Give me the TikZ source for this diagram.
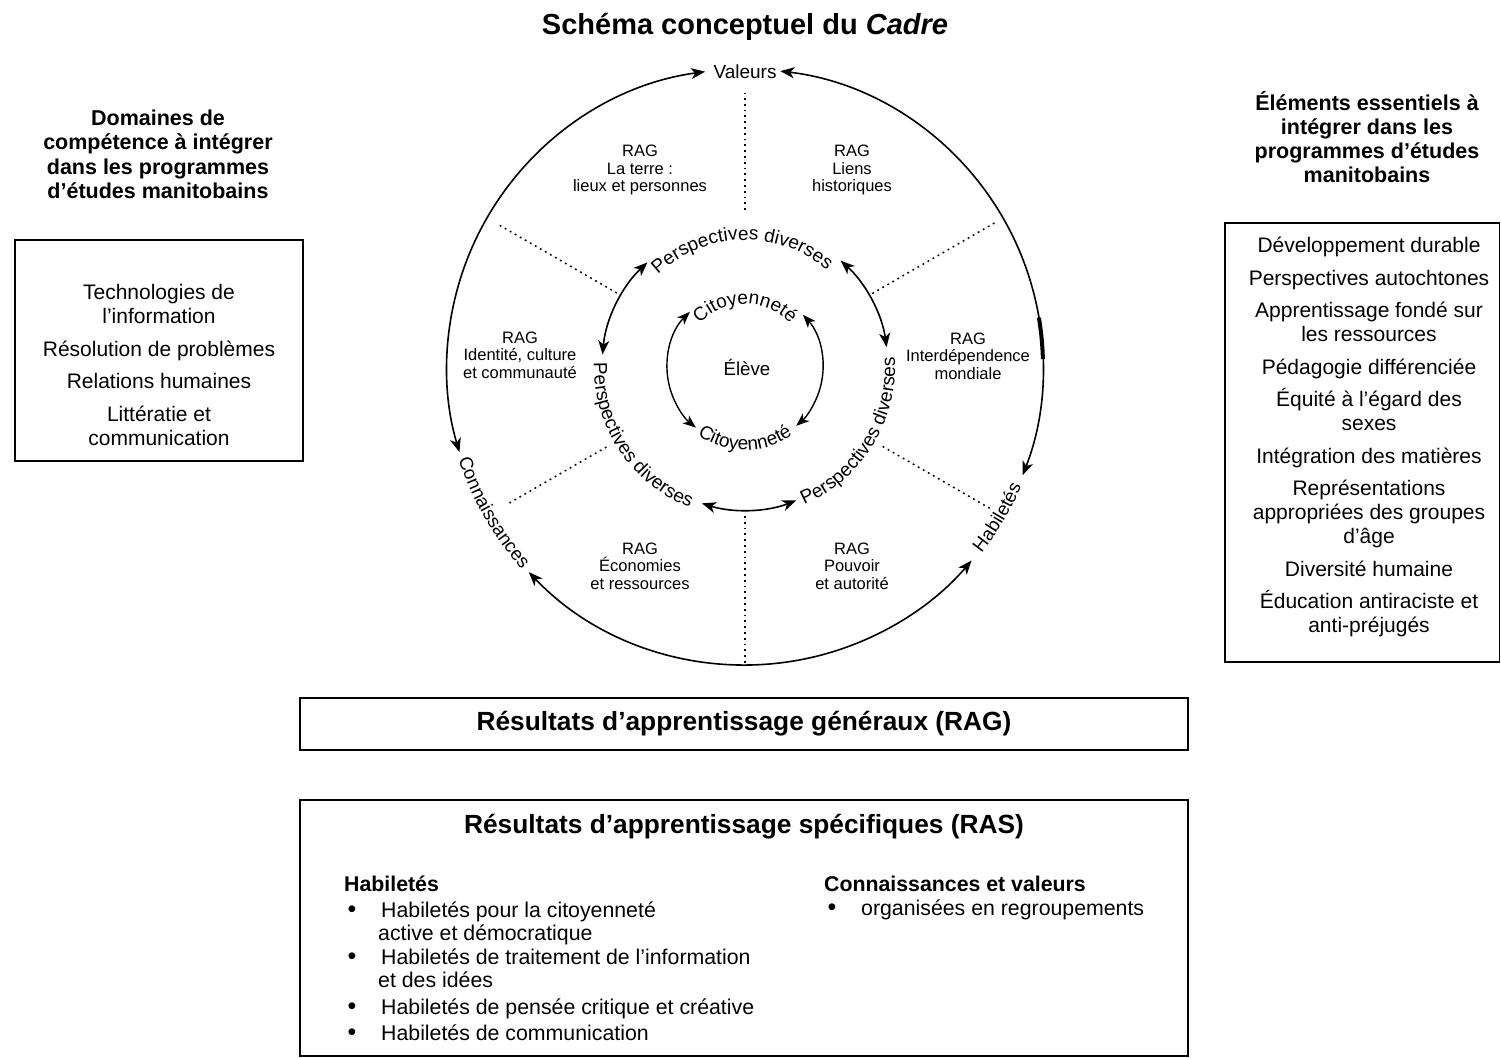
\documentclass[tikz,border=0pt]{standalone}
\usepackage{fontspec}
\setmainfont{Liberation Sans}
\usetikzlibrary{arrows.meta,decorations.text}
\newcommand\dgPers{\fontsize{19}{20}\selectfont}
\newcommand\dgCit{\fontsize{19}{20}\selectfont}
\newcommand\dgOuter{\fontsize{18.7}{20}\selectfont}
\begin{document}
\begin{tikzpicture}[x=1pt,y=1pt,
  boxnode/.style={draw,line width=1.3pt,inner sep=0pt},
  bigtip/.style={line width=1.6pt,{Stealth[length=14pt,width=11pt,inset=4pt]}-{Stealth[length=14pt,width=11pt,inset=4pt]}},
  smalltip/.style={line width=1.4pt,{Stealth[length=13pt,width=10pt,inset=3.5pt]}-{Stealth[length=13pt,width=10pt,inset=3.5pt]}},
  sepline/.style={line width=1.5pt,dash pattern=on 1.8pt off 4pt},
  raglabel/.style={align=center,font=\fontsize{16.5}{17.5}\selectfont,inner sep=0pt},
  header/.style={align=center,font=\bfseries\fontsize{21.5}{24.5}\selectfont,inner sep=0pt},
  bodytext/.style={align=center,font=\fontsize{21}{24.5}\selectfont,inner sep=0pt},
  bigtitle/.style={font=\bfseries\fontsize{26.3}{30}\selectfont,inner sep=0pt},
  listtext/.style={anchor=base west,font=\fontsize{21.3}{24}\selectfont,inner sep=0pt},
  listhead/.style={anchor=west,font=\bfseries\fontsize{21.3}{24}\selectfont,inner sep=0pt},
  bulletnode/.style={anchor=base,font=\fontsize{25}{26}\selectfont,inner sep=0pt},
  ringtext/.style={decorate,decoration={text along path,text align=center,text={#1}}}
]
\useasboundingbox (0,0) rectangle (1501,1057);

% Title
\node[font=\bfseries\fontsize{29}{32}\selectfont,inner sep=0pt] (title) at (745,1030) {Schéma conceptuel du \textit{Cadre}};

% Left column
\node[header] (lhead) at (158,902.5) {Domaines de\\compétence à intégrer\\dans les programmes\\d’études manitobains};
\node[boxnode,minimum width=288pt,minimum height=221pt] (lbox) at (159,706.5) {};
\node[bodytext] (ltext) at (159,692) {Technologies de\\l’information\\[8pt]Résolution de problèmes\\[8pt]Relations humaines\\[8pt]Littératie et\\communication};

% Right column
\node[header,font=\bfseries\fontsize{21.5}{24}\selectfont] (rhead) at (1367,920) {Éléments essentiels à\\intégrer dans les\\programmes d’études\\manitobains};
\node[boxnode,minimum width=274.3pt,minimum height=439pt] (rbox) at (1362.15,614.5) {};
\node[bodytext,font=\fontsize{21}{24}\selectfont] (rtext) at (1369,620) {Développement durable\\[8.5pt]Perspectives autochtones\\[8.5pt]Apprentissage fondé sur\\les ressources\\[8.5pt]Pédagogie différenciée\\[8.5pt]Équité à l’égard des\\sexes\\[8.5pt]Intégration des matières\\[8.5pt]Représentations\\appropriées des groupes\\d’âge\\[8.5pt]Diversité humaine\\[8.5pt]Éducation antiraciste et\\anti-préjugés};

% Circle diagram
\coordinate (C) at (745,690);

% outer ring
\draw[bigtip] ([shift={(97.7:298)}]C) arc[start angle=97.7,end angle=196.6,radius=298];
\draw[bigtip] ([shift={(83.2:298)}]C) arc[start angle=83.2,end angle=-21.3,radius=298];
\draw[bigtip] ([shift={(223.5:298)}]C) arc[start angle=223.5,end angle=319.5,radius=298];
\draw[line width=4pt] ([shift={(1.5:298)}]C) arc[start angle=1.5,end angle=9.5,radius=298];
\node[font=\fontsize{19}{20}\selectfont,inner sep=0pt] (val) at (745,985) {Valeurs};
\path[ringtext={|\dgOuter|Connaissances}] ([shift={(190:301)}]C) arc[start angle=190,end angle=230,radius=301];
\path[ringtext={|\dgOuter|Habiletés}] ([shift={(-45:301)}]C) arc[start angle=-45,end angle=-16.5,radius=301];

% separators
\draw[sepline] ([shift={(90:157)}]C) -- ([shift={(90:274)}]C);
\draw[sepline] ([shift={(150:148)}]C) -- ([shift={(150:286)}]C);
\draw[sepline] ([shift={(30:147)}]C) -- ([shift={(30:290)}]C);
\draw[sepline] ([shift={(210:160)}]C) -- ([shift={(210:274)}]C);
\draw[sepline] ([shift={(330:159)}]C) -- ([shift={(330:283)}]C);
\draw[sepline] ([shift={(270:149)}]C) -- ([shift={(270:296)}]C);

% RAG labels
\node[raglabel] (rag1) at (640,887) {RAG\\La terre :\\lieux et personnes};
\node[raglabel] (rag2) at (852,887) {RAG\\Liens\\historiques};
\node[raglabel] (rag3) at (520,702) {RAG\\Identité, culture\\et communauté};
\node[raglabel] (rag4) at (968,701) {RAG\\Interdépendence\\mondiale};
\node[raglabel] (rag5) at (640,491) {RAG\\Économies\\et ressources};
\node[raglabel] (rag6) at (852,491) {RAG\\Pouvoir\\et autorité};

% middle ring
\draw[bigtip] ([shift={(133:143)}]C) arc[start angle=133,end angle=175,radius=143];
\draw[bigtip] ([shift={(48:143)}]C) arc[start angle=48,end angle=8,radius=143];
\draw[bigtip] ([shift={(252.5:143)}]C) arc[start angle=252.5,end angle=291,radius=143];
\path[ringtext={|\dgPers|Perspectives diverses}] ([shift={(160:127)}]C) arc[start angle=160,end angle=23,radius=127];
\path[ringtext={|\dgPers|Perspectives diverses}] ([shift={(163:151)}]C) arc[start angle=163,end angle=264,radius=151];
\path[ringtext={|\dgPers|Perspectives diverses}] ([shift={(278:150)}]C) arc[start angle=278,end angle=379,radius=150];

% inner ring
\draw[smalltip] ([shift={(135:78)}]C) arc[start angle=135,end angle=231,radius=78];
\draw[smalltip] ([shift={(42:78)}]C) arc[start angle=42,end angle=-49,radius=78];
\path[ringtext={|\dgCit|Citoyenneté}] ([shift={(160:63)}]C) arc[start angle=160,end angle=20,radius=63];
\path[ringtext={|\dgCit|Citoyenneté}] ([shift={(200:83)}]C) arc[start angle=200,end angle=340,radius=83];
\node[font=\fontsize{18.7}{20}\selectfont,inner sep=0pt] (eleve) at (747,690) {Élève};

% RAG box
\node[boxnode,minimum width=888pt,minimum height=52pt] (ragbox) at (744,333) {};
\node[bigtitle] (ragtitle) at (744,333) {Résultats d’apprentissage généraux (RAG)};

% RAS box
\node[boxnode,minimum width=888pt,minimum height=256pt] (rasbox) at (744,129) {};
\node[bigtitle] (rastitle) at (744,230) {Résultats d’apprentissage spécifiques (RAS)};
\node[listhead] (habhead) at (344,173) {Habiletés};
\node[bulletnode] (b1) at (352,139.5) {•};
\node[listtext] (h1a) at (381,139.5) {Habiletés pour la citoyenneté};
\node[listtext] (h1b) at (378,116.5) {active et démocratique};
\node[bulletnode] (b2) at (352,92.5) {•};
\node[listtext] (h2a) at (381,92.5) {Habiletés de traitement de l’information};
\node[listtext] (h2b) at (378,69.5) {et des idées};
\node[bulletnode] (b3) at (352,42) {•};
\node[listtext] (h3) at (381,42) {Habiletés de pensée critique et créative};
\node[bulletnode] (b4) at (352,16.5) {•};
\node[listtext] (h4) at (381,16.5) {Habiletés de communication};
\node[listhead] (cvhead) at (824,173) {Connaissances et valeurs};
\node[bulletnode] (b5) at (832,141.5) {•};
\node[listtext] (cv1) at (861,141.5) {organisées en regroupements};
\end{tikzpicture}
\end{document}
